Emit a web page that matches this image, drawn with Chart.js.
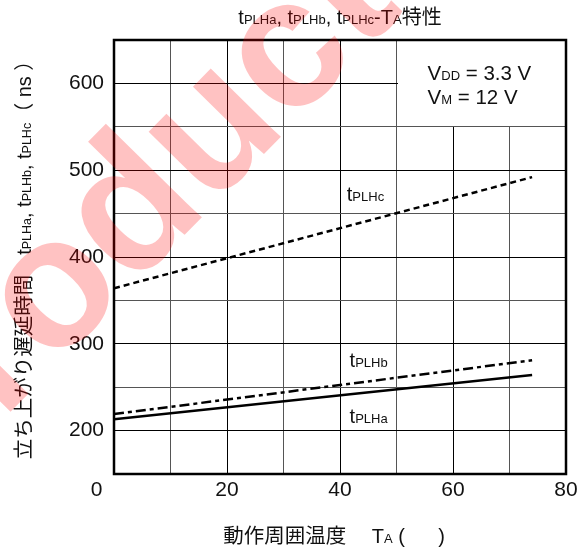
<!DOCTYPE html>
<html>
<head>
<meta charset="utf-8">
<script src="https://cdn.jsdelivr.net/npm/chart.js@4/dist/chart.umd.min.js"></script>
<style>
  html, body { margin: 0; padding: 0; background: #fff; }
  #wrap { width: 588px; height: 553px; }
</style>
</head>
<body>
<div id="wrap"><canvas id="tplhChart" width="588" height="553"></canvas></div>
<script>
// Ambient temperature (deg C) at the two ends of each line
const temps = [0, 74];
// Rise delay times (ns)
const tplhA = [213, 264];
const tplhB = [219, 281];
const tplhC = [364, 492];

// Tick labels shown on the axes
const xLabels = [0, 20, 40, 60, 80];
const yLabels = [200, 300, 400, 500, 600];

const FONT = '"Liberation Sans", "Noto Sans CJK JP", sans-serif';

function toPoints(ys) {
    return temps.map((t, i) => ({ x: t, y: ys[i] }));
}

// text runs with their own sizes, used for the small "PLH" subscripts
function richWidth(ctx, parts) {
    let w = 0;
    for (const [text, size] of parts) {
        ctx.font = size + 'px ' + FONT;
        w += ctx.measureText(text).width;
    }
    return w;
}

function drawRich(ctx, parts, x, y, align) {
    ctx.textAlign = 'left';
    ctx.textBaseline = 'alphabetic';
    let cx = align === 'center' ? x - richWidth(ctx, parts) / 2 : x;
    for (const [text, size] of parts) {
        ctx.font = size + 'px ' + FONT;
        ctx.fillText(text, cx, y);
        cx += ctx.measureText(text).width;
    }
}

const titleParts = [['t', 20], ['PLHa', 13], [', t', 20], ['PLHb', 13], [', t', 20], ['PLHc', 13],
    ['-T', 20], ['A', 13], ['特性', 20]];
const yTitleParts = [['立ち上がり遅延時間', 20.5], ['　', 20], ['t', 20], ['PLHa', 12.5], [', t', 20],
    ['PLHb', 12.5], [', t', 20], ['PLHc', 12.5], ['（ ns ）', 20]];
const xTitleParts = [['動作周囲温度', 20.5], ['　 ', 20], ['T', 20], ['A', 13], [' (      )', 20]];

// curve names, anchored in data units
const curveLabels = [
    { parts: [['t', 20], ['PLHc', 13]], x: 41.2, y: 464 },
    { parts: [['t', 20], ['PLHb', 13]], x: 41.7, y: 273 },
    { parts: [['t', 20], ['PLHa', 13]], x: 41.7, y: 209 }
];
const condLines = [
    { parts: [['V', 20.5], ['DD', 13], [' = 3.3 V', 20.5]], x: 55.5, y: 604 },
    { parts: [['V', 20.5], ['M', 13], [' = 12 V', 20.5]], x: 55.5, y: 576 }
];

function drawWatermark(ctx) {
    ctx.save();
    ctx.translate(-85, 509);
    ctx.rotate(-45.5 * Math.PI / 180);
    ctx.font = 'bold 185px "Liberation Sans", sans-serif';
    ctx.fillStyle = 'rgba(255, 0, 0, 0.24)';
    ctx.textAlign = 'left';
    ctx.textBaseline = 'alphabetic';
    ctx.fillText('Product', 0, 0);
    ctx.restore();
}

const decorPlugin = {
    id: 'decor',
    beforeDraw(chart) {
        const ctx = chart.ctx;
        ctx.save();
        ctx.fillStyle = '#fff';
        ctx.fillRect(0, 0, chart.width, chart.height);
        ctx.restore();
    },
    beforeDatasetsDraw(chart) {
        // blank cell holding the test conditions
        const { ctx, chartArea, scales: { x, y } } = chart;
        const left = Math.round(x.getPixelForValue(50)) + 1;
        const bottom = Math.round(y.getPixelForValue(550)) - 1;
        ctx.save();
        ctx.fillStyle = '#fff';
        ctx.fillRect(left, chartArea.top, chartArea.right - left, bottom - chartArea.top);
        ctx.restore();
    },
    afterDraw(chart) {
        const { ctx, chartArea, scales: { x, y } } = chart;
        ctx.save();
        ctx.strokeStyle = '#000';
        ctx.lineWidth = 2.5;
        ctx.strokeRect(chartArea.left, chartArea.top,
            chartArea.right - chartArea.left, chartArea.bottom - chartArea.top);

        ctx.fillStyle = '#111';
        drawRich(ctx, titleParts, (chartArea.left + chartArea.right) / 2, 24, 'center');
        drawRich(ctx, xTitleParts, 334, 543, 'center');
        curveLabels.concat(condLines).forEach(l => {
            drawRich(ctx, l.parts, x.getPixelForValue(l.x), y.getPixelForValue(l.y), 'left');
        });

        ctx.save();
        ctx.translate(31, 255);
        ctx.rotate(-Math.PI / 2);
        drawRich(ctx, yTitleParts, 0, 0, 'center');
        ctx.restore();
        ctx.restore();

        // translucent stamp lies over the whole sheet
        drawWatermark(ctx);
    }
};

Chart.defaults.font.family = FONT;
Chart.defaults.color = '#111';

new Chart(document.getElementById('tplhChart'), {
    type: 'line',
    data: {
        datasets: [
            {
                label: 'tPLHa',
                data: toPoints(tplhA),
                borderColor: '#000',
                borderWidth: 2.5
            },
            {
                label: 'tPLHb',
                data: toPoints(tplhB),
                borderColor: '#000',
                borderWidth: 2.5,
                borderDash: [10, 4, 4, 4]
            },
            {
                label: 'tPLHc',
                data: toPoints(tplhC),
                borderColor: '#000',
                borderWidth: 2.5,
                borderDash: [6, 4]
            }
        ]
    },
    options: {
        responsive: false,
        animation: false,
        events: [],
        elements: { point: { radius: 0 }, line: { tension: 0 } },
        layout: { padding: { left: 0, right: 22, top: 40, bottom: 0 } },
        plugins: { legend: { display: false }, tooltip: { enabled: false } },
        scales: {
            x: {
                type: 'linear',
                min: 0,
                max: 80,
                border: { display: false },
                grid: {
                    drawTicks: false,
                    lineWidth: 1,
                    color: c => (c.tick && c.tick.value % 20 === 0) ? '#000' : '#555'
                },
                ticks: {
                    stepSize: 10,
                    autoSkip: false,
                    maxRotation: 0,
                    padding: 4,
                    font: { size: 21 },
                    // "0" sits left of the corner in the original
                    callback: v => xLabels.includes(v) ? (v === 0 ? '0      ' : String(v)) : ''
                },
                afterFit: s => { s.height = 79; }
            },
            y: {
                type: 'linear',
                min: 150,
                max: 650,
                border: { display: false },
                grid: {
                    drawTicks: false,
                    lineWidth: 1,
                    color: c => (c.tick && c.tick.value % 100 === 0) ? '#000' : '#555'
                },
                ticks: {
                    stepSize: 50,
                    autoSkip: false,
                    padding: 10,
                    font: { size: 21 },
                    callback: v => yLabels.includes(v) ? String(v) : ''
                },
                afterFit: s => { s.width = 114; }
            }
        }
    },
    plugins: [decorPlugin]
});
</script>
</body>
</html>
